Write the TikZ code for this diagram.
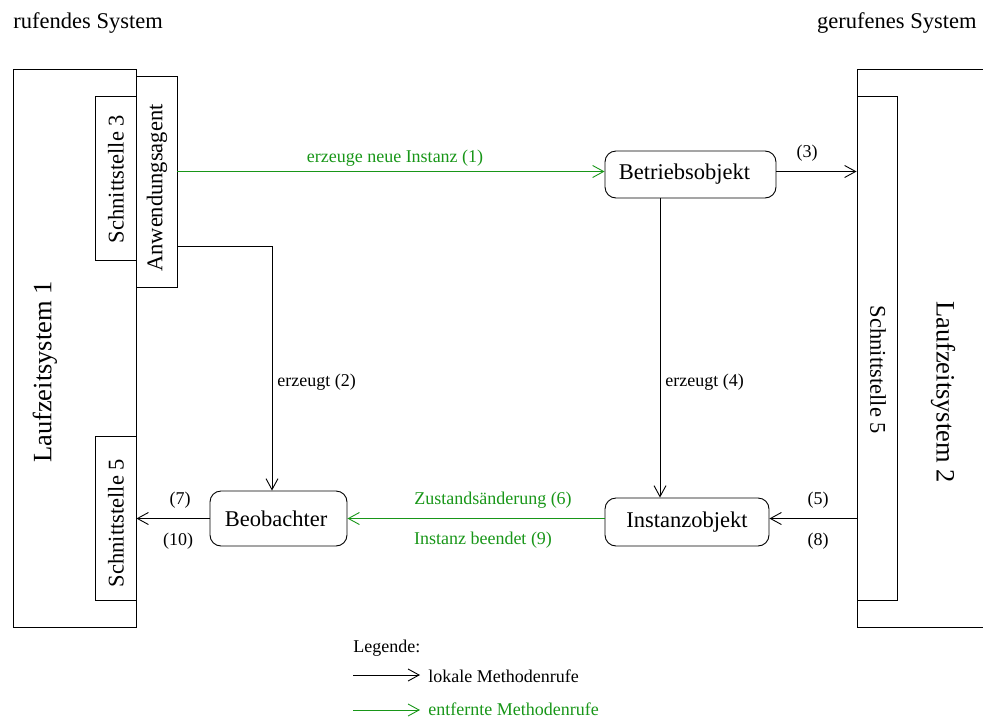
\documentclass[tikz,border=0pt]{standalone}
\usepackage{fontspec}
\setmainfont{Liberation Serif}
\usetikzlibrary{arrows.meta}
\definecolor{remote}{RGB}{24,150,24}
\newcommand\fsbig{\fontsize{26.5}{30}\selectfont}
\newcommand\fsmain{\fontsize{22.5}{26}\selectfont}
\newcommand\fssmall{\fontsize{18}{21}\selectfont}
\begin{document}
\begin{tikzpicture}[x=1pt,y=-1pt,
  line width=0.9pt,
  >={Straight Barb[length=11pt,width=12pt]},
  frame/.style={draw, inner sep=0pt, fill=white},
  obj/.style={draw, inner sep=0pt, rounded corners=11pt, font=\fsmain},
  vtext/.style={font=\fsmain, inner sep=0pt},
  lbl/.style={font=\fssmall, inner sep=0pt},
  remotecall/.style={->, draw=remote},
  localcall/.style={->, draw=black}]
\useasboundingbox (0,0) rectangle (983,718);

% headers
\node[font=\fsmain, anchor=base west, inner sep=0pt] (hleft) at (13,28) {rufendes System};
\node[font=\fsmain, anchor=base east, inner sep=0pt] (hright) at (977,28) {gerufenes System};

% calling runtime system with its interfaces
\node[frame, minimum width=123pt, minimum height=558pt] (ls1) at (74.5,348) {};
\node[frame, minimum width=41pt, minimum height=211pt] (agent) at (156.5,181.5) {};
\node[frame, minimum width=41pt, minimum height=164pt] (ss3) at (115.5,178) {};
\node[frame, minimum width=41pt, minimum height=164pt] (ss5l) at (115.5,518) {};
\node[font=\fsbig, inner sep=0pt, rotate=90] (ls1text) at (45,372) {Laufzeitsystem 1};
\node[vtext, rotate=90] (agenttext) at (157,188) {Anwendungsagent};
\node[vtext, rotate=90] (ss3text) at (116,179) {Schnittstelle 3};
\node[vtext, rotate=90] (ss5ltext) at (116,523) {Schnittstelle 5};

% called runtime system
\node[frame, minimum width=127pt, minimum height=558pt] (ls2) at (920.5,348) {};
\node[frame, minimum width=40pt, minimum height=504pt] (ss5r) at (877,348) {};
\node[font=\fsbig, inner sep=0pt, rotate=-90] (ls2text) at (943,392) {Laufzeitsystem 2};
\node[vtext, rotate=-90] (ss5rtext) at (878,370) {Schnittstelle 5};

% objects
\node[obj, minimum width=171pt, minimum height=47pt] (betrieb) at (690.5,174.5) {\hspace*{-12pt}Betriebsobjekt};
\node[obj, minimum width=164pt, minimum height=48pt] (instanz) at (687,522) {Instanzobjekt};
\node[obj, minimum width=137pt, minimum height=55pt] (beob) at (278.5,518.5) {\hspace*{-5pt}Beobachter};

% helper points on the objects
\coordinate (c1) at ([yshift=3pt]betrieb.west);
\coordinate (c3) at ([yshift=3pt]betrieb.east);
\coordinate (c2) at ([xshift=-6.5pt]beob.north);
\coordinate (c2s) at ([yshift=-64.5pt]agent.east);
\coordinate (c4) at ([xshift=-30.5pt]betrieb.south);

% calls
\draw[remotecall] (c1 -| agent.east) -- (c1);
\draw[localcall] (c3) -- (c3 -| ls2.west);
\draw[localcall] (c2s) -| (c2);
\draw[localcall] (c4) -- (c4 |- instanz.north);
\draw[remotecall] (beob.east -| instanz.west) -- (beob.east);
\draw[localcall] (beob.east -| ls2.west) -- (beob.east -| instanz.east);
\draw[localcall] (beob.west) -- (beob.west -| ss5l.east);

% call labels
\node[lbl, text=remote] (l1) at (395,158) {erzeuge neue Instanz (1)};
\node[lbl] (l3) at (807,153) {(3)};
\node[lbl, anchor=west] (l2) at (277,382) {erzeugt (2)};
\node[lbl, anchor=west] (l4) at (665,382) {erzeugt (4)};
\node[lbl] (l5) at (818,500) {(5)};
\node[lbl] (l8) at (818,541) {(8)};
\node[lbl, text=remote] (l6) at (493,500) {Zustandsänderung (6)};
\node[lbl, text=remote] (l9) at (483,540) {Instanz beendet (9)};
\node[lbl] (l7) at (180,500) {(7)};
\node[lbl] (l10) at (178,541) {(10)};

% legend
\node[lbl, anchor=west] (legend) at (353,648) {Legende:};
\coordinate (k1a) at (353,675);
\coordinate (k1b) at (420,675);
\coordinate (k2a) at (353,710);
\coordinate (k2b) at (420,710);
\draw[localcall] (k1a) -- (k1b);
\draw[remotecall] (k2a) -- (k2b);
\node[lbl, anchor=west] (lk1) at (428,676) {lokale Methodenrufe};
\node[lbl, anchor=west, text=remote] (lk2) at (428,709) {entfernte Methodenrufe};
\end{tikzpicture}
\end{document}
